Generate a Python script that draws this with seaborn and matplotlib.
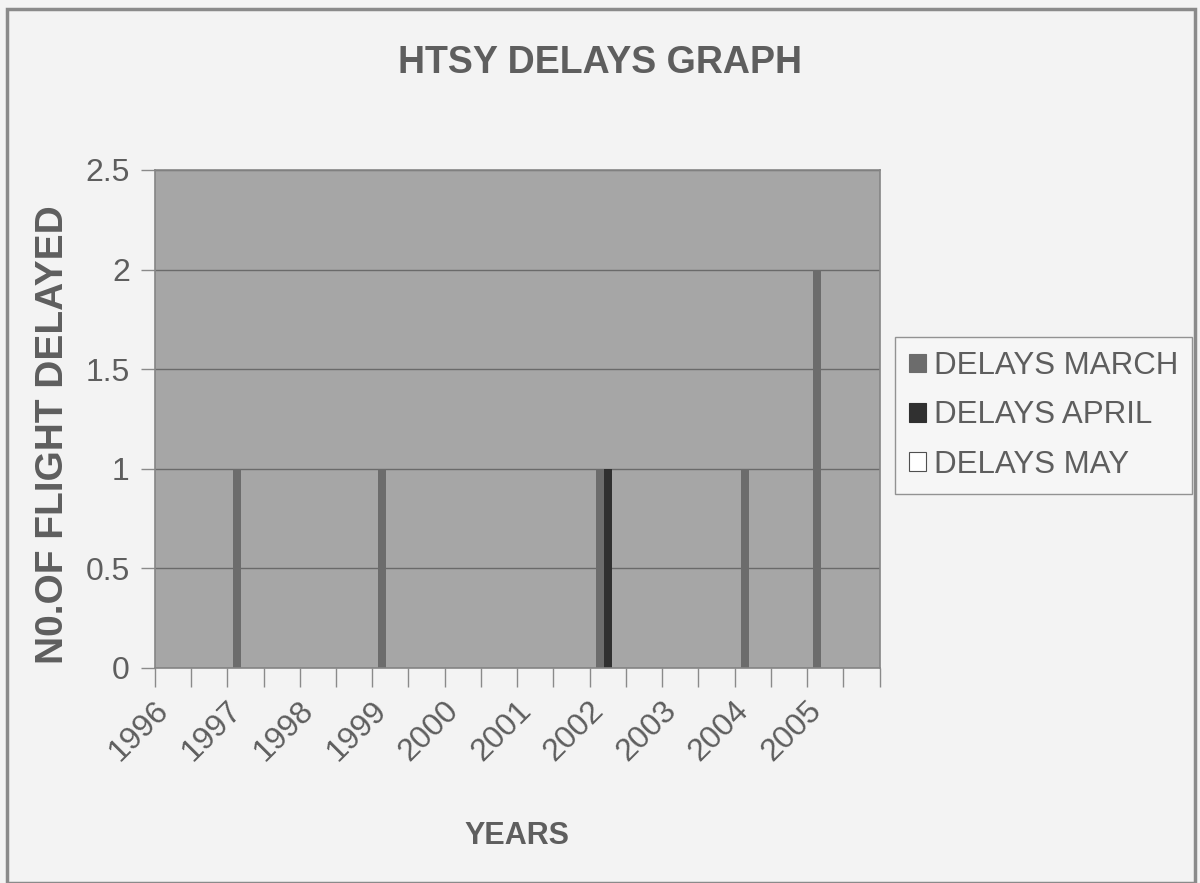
import numpy as np
import pandas as pd
import seaborn as sns
import matplotlib.pyplot as plt
from matplotlib.patches import Patch, Rectangle
from matplotlib.transforms import ScaledTranslation

# 20 category slots on the x axis, only every second one is labelled
slots = list(range(20))
year_labels = ["1996", "1997", "1998", "1999", "2000",
               "2001", "2002", "2003", "2004", "2005"]
months = ["DELAYS MARCH", "DELAYS APRIL", "DELAYS MAY"]
march = [0, 0, 1, 0, 0, 0, 1, 0, 0, 0, 0, 0, 1, 0, 0, 0, 1, 0, 2, 0]
april = [0, 0, 0, 0, 0, 0, 0, 0, 0, 0, 0, 0, 1, 0, 0, 0, 0, 0, 0, 0]
may = [0, 0, 0, 0, 0, 0, 0, 0, 0, 0, 0, 0, 0, 0, 0, 0, 0, 0, 0, 0]
y_ticks = [0, 0.5, 1, 1.5, 2, 2.5]
y_ticklabels = ["0", "0.5", "1", "1.5", "2", "2.5"]

colors = ["#6c6c6c", "#303030", "#ffffff"]
TEXT = "#5e5e5e"
BG = "#f3f3f3"

df = pd.DataFrame({
    "slot": slots * 3,
    "month": np.repeat(months, len(slots)),
    "delays": march + april + may,
})

sns.set_style("white")
plt.rcParams["font.family"] = ["Liberation Sans", "DejaVu Sans"]

fig = plt.figure(figsize=(12, 8.83), dpi=100, facecolor=BG)
ax = fig.add_axes([0.129, 0.2435, 0.604, 0.564])
ax.set_facecolor("#a6a6a6")

sns.barplot(data=df, x="slot", y="delays", hue="month", order=slots,
            hue_order=months, palette=colors, width=2 / 3, linewidth=0,
            legend=False, ax=ax)

ax.set_ylim(0, 2.5)
ax.set_xlim(-0.5, len(slots) - 0.5)
ax.set_yticks(y_ticks)
ax.set_yticklabels(y_ticklabels)
ax.yaxis.grid(True, color="#6a6a6a", linewidth=1)
ax.set_axisbelow(True)

ax.set_xticks(range(0, len(slots), 2))
ax.set_xticklabels(year_labels, rotation=45, ha="right",
                   rotation_mode="anchor")
ax.set_xticks(np.arange(-0.5, len(slots), 1), minor=True)
ax.tick_params(axis="x", which="major", length=0, pad=20,
               labelsize=23, labelcolor=TEXT, bottom=True)
ax.tick_params(axis="x", which="minor", length=14, width=1,
               color="#8a8a8a", direction="out", bottom=True)
ax.tick_params(axis="y", length=10, width=1, color="#8a8a8a",
               pad=8, labelsize=23, labelcolor=TEXT, left=True)
shift = ScaledTranslation(-19 / 100, 0, fig.dpi_scale_trans)
for lbl in ax.get_xticklabels():
    lbl.set_transform(lbl.get_transform() + shift)
ax.set_xlabel("")
ax.set_ylabel("")
for s in ax.spines.values():
    s.set_color("#858585")
    s.set_linewidth(1.2)

fig.text(0.5, 1 - 63 / 883, "HTSY DELAYS GRAPH", ha="center", va="center",
         fontsize=27, fontweight="bold", color=TEXT)
fig.text(53 / 1200, 1 - 435 / 883, "N0.OF FLIGHT DELAYED", rotation=90,
         ha="center", va="center", fontsize=28, fontweight="bold", color=TEXT)
fig.text(517 / 1200, 1 - 836 / 883, "YEARS", ha="center", va="center",
         fontsize=22, fontweight="bold", color=TEXT)

handles = [Patch(facecolor=c, edgecolor="#505050" if c == "#ffffff" else c,
                 linewidth=0.8) for c in colors]
leg = fig.legend(handles, months, loc="upper left",
                 bbox_to_anchor=(895 / 1200, 1 - 337 / 883),
                 fontsize=22.5, frameon=True, fancybox=False,
                 handlelength=0.55, handleheight=0.55, handletextpad=0.25,
                 labelspacing=0.62, borderpad=0.45, borderaxespad=0)
leg.get_frame().set_edgecolor("#7a7a7a")
leg.get_frame().set_facecolor("#f7f7f7")
leg.get_frame().set_linewidth(1)
for t in leg.get_texts():
    t.set_color(TEXT)

fig.patches.append(Rectangle((7 / 1200, 0), 1188 / 1200, 1 - 9 / 883,
                             transform=fig.transFigure, fill=False,
                             edgecolor="#8a8a8a", linewidth=2.5))

fig.savefig("out.png", dpi=100, facecolor=BG)
